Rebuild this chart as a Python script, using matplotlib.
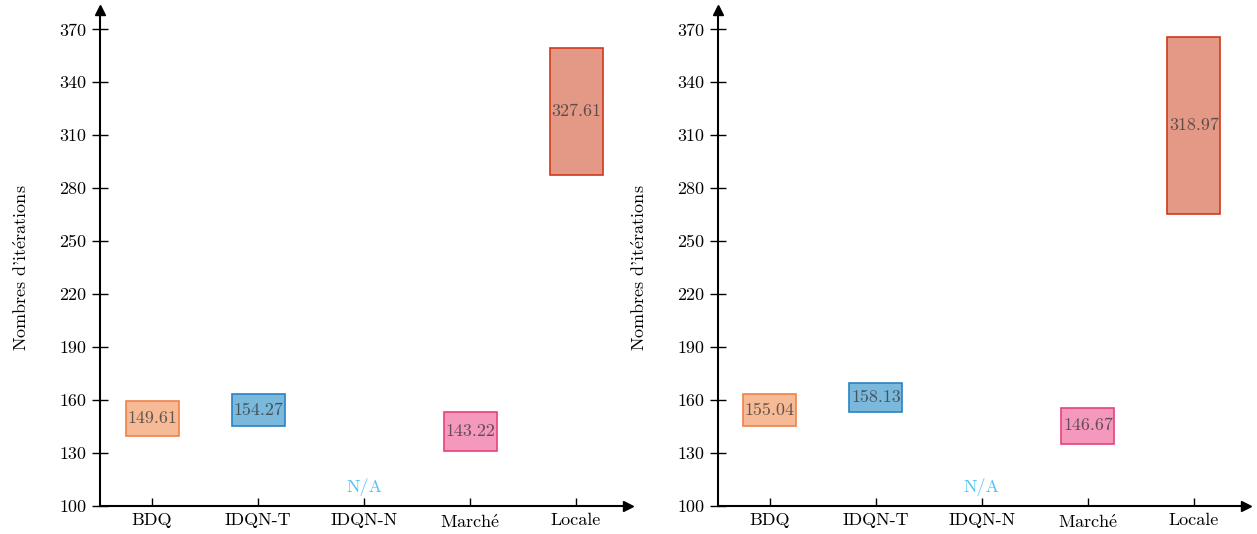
import matplotlib.pyplot as plt
import numpy as np

plt.rcParams['font.family'] = ['cmr10', 'DejaVu Serif']
plt.rcParams['mathtext.fontset'] = 'cm'
plt.rcParams['axes.formatter.use_mathtext'] = True

categories = ['BDQ', 'IDQN-T', 'IDQN-N', r'March$\mathrm{\acute{e}}$', 'Locale']
fills = ['#f6ba96', '#7ab8dc', None, '#f598bd', '#e49886']
edges = ['#f0824a', '#2a83c4', None, '#e8417b', '#d03a1e']

# left panel: box low / high and printed value (None = N/A)
left_low = [139.4, 145.4, None, 131.2, 287.4]
left_high = [159.7, 163.4, None, 153.3, 359.4]
left_vals = ['149.61', '154.27', None, '143.22', '327.61']

# right panel
right_low = [145.4, 153.1, None, 135.3, 265.6]
right_high = [163.4, 169.6, None, 155.8, 365.6]
right_vals = ['155.04', '158.13', None, '146.67', '318.97']

yticks = [100, 130, 160, 190, 220, 250, 280, 310, 340, 370]
ylabel = r"Nombres d'it$\mathrm{\acute{e}}$rations"

fig = plt.figure(figsize=(12.57, 5.34), dpi=100)
ax1 = fig.add_axes([0.0796, 0.0524, 0.42, 0.929])
ax2 = fig.add_axes([0.5712, 0.0524, 0.42, 0.929])


def draw(ax, low, high, vals):
    x = np.arange(len(categories))
    for i in range(len(categories)):
        if low[i] is None:
            ax.text(x[i], 110.5, 'N/A', color='#4fc3f7', fontsize=13,
                    ha='center', va='center')
            continue
        ax.bar(x[i], high[i] - low[i], bottom=low[i], width=0.5,
               color=fills[i], edgecolor=edges[i], linewidth=1.2, zorder=2)
        ax.text(x[i], (low[i] + high[i]) / 2, vals[i], color='#333333',
                alpha=0.75, fontsize=13, ha='center', va='center', zorder=3)
    ax.set_xlim(-0.49, 4.49)
    ax.set_ylim(100, 381)
    ax.set_xticks(x)
    ax.set_xticklabels(categories, fontsize=13)
    ax.set_yticks(yticks)
    ax.set_yticklabels([str(t) for t in yticks], fontsize=13)
    ax.spines['top'].set_visible(False)
    ax.spines['right'].set_visible(False)
    ax.spines['left'].set_linewidth(1.5)
    ax.spines['bottom'].set_linewidth(1.5)
    ax.tick_params(axis='y', direction='inout', length=12, width=1, pad=4)
    ax.tick_params(axis='x', direction='in', length=6, width=1, pad=5)
    ax.plot(1, 0, '>k', transform=ax.transAxes, clip_on=False, markersize=7)
    ax.plot(0, 1, '^k', transform=ax.transAxes, clip_on=False, markersize=7)
    ax.set_ylabel(ylabel, fontsize=13)
    ax.yaxis.set_label_coords(-0.133, 0.48)


draw(ax1, left_low, left_high, left_vals)
draw(ax2, right_low, right_high, right_vals)

plt.savefig('out.png', dpi=100)
